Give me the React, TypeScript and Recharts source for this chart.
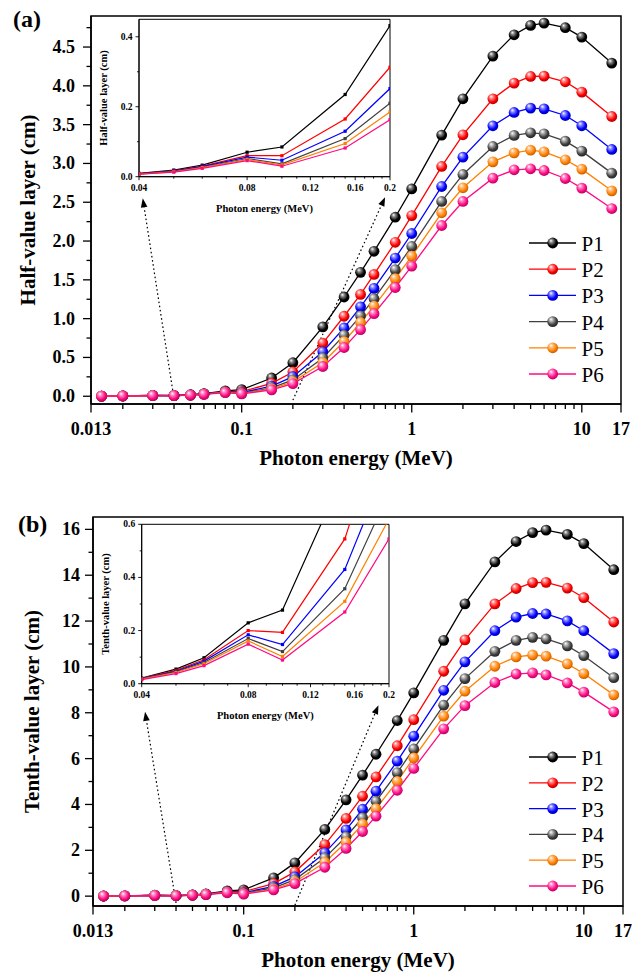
import React from 'react';
import { LineChart, Line, XAxis, YAxis, ReferenceArea, ReferenceLine, Legend } from 'recharts';

// ---------------- data ----------------
const ENERGY = [0.015, 0.02, 0.03, 0.04, 0.05, 0.06, 0.08, 0.1, 0.15, 0.2, 0.3, 0.4, 0.5, 0.6, 0.8, 1, 1.5, 2, 3, 4, 5, 6, 8, 10, 15];

const SERIES_NAMES = ['P1', 'P2', 'P3', 'P4', 'P5', 'P6'];
const SERIES_COLORS = ['#000000', '#FF0000', '#0000FF', '#404040', '#FF8000', '#FF0A84'];
const BALL_LIGHT = ['#8c8c8c', '#ff9090', '#9090ff', '#b8b8b8', '#ffc48a', '#ff92c8'];
const BALL_DARK = ['#000000', '#a00000', '#0000a0', '#1e1e1e', '#b85400', '#a8005a'];

const HVL_P1 = [0.002, 0.004, 0.012, 0.0096, 0.019, 0.033, 0.07, 0.085, 0.235, 0.432, 0.893, 1.279, 1.597, 1.868, 2.307, 2.672, 3.365, 3.833, 4.383, 4.658, 4.779, 4.809, 4.749, 4.628, 4.293];
const HVL_P2 = [0.002, 0.004, 0.011, 0.009, 0.017, 0.03, 0.06, 0.06, 0.165, 0.313, 0.685, 1.031, 1.312, 1.57, 1.984, 2.328, 2.961, 3.369, 3.833, 4.035, 4.121, 4.125, 4.052, 3.919, 3.605];
const HVL_P3 = [0.002, 0.003, 0.01, 0.008, 0.016, 0.029, 0.056, 0.047, 0.13, 0.252, 0.573, 0.88, 1.152, 1.39, 1.781, 2.097, 2.703, 3.081, 3.485, 3.657, 3.713, 3.704, 3.618, 3.485, 3.18];
const HVL_P4 = [0.001, 0.003, 0.009, 0.008, 0.015, 0.027, 0.052, 0.037, 0.109, 0.21, 0.494, 0.788, 1.036, 1.257, 1.631, 1.93, 2.51, 2.858, 3.219, 3.361, 3.395, 3.382, 3.287, 3.159, 2.875];
const HVL_P5 = [0.001, 0.003, 0.009, 0.007, 0.014, 0.026, 0.049, 0.034, 0.095, 0.185, 0.434, 0.705, 0.95, 1.162, 1.515, 1.805, 2.364, 2.686, 3.021, 3.137, 3.171, 3.15, 3.047, 2.927, 2.647];
const HVL_P6 = [0.001, 0.003, 0.008, 0.007, 0.013, 0.024, 0.046, 0.03, 0.082, 0.163, 0.383, 0.628, 0.859, 1.064, 1.401, 1.676, 2.2, 2.51, 2.81, 2.918, 2.931, 2.909, 2.806, 2.682, 2.419];

const TVL_P1 = [0.006, 0.012, 0.04, 0.021, 0.055, 0.0975, 0.229, 0.277, 0.8, 1.45, 2.91, 4.2, 5.28, 6.19, 7.66, 8.87, 11.16, 12.75, 14.58, 15.47, 15.86, 15.97, 15.78, 15.38, 14.24];
const TVL_P2 = [0.006, 0.011, 0.037, 0.02, 0.05, 0.09, 0.2, 0.193, 0.545, 1.06, 2.25, 3.39, 4.36, 5.2, 6.56, 7.7, 9.81, 11.18, 12.75, 13.42, 13.68, 13.69, 13.44, 13.02, 11.96];
const TVL_P3 = [0.005, 0.01, 0.035, 0.019, 0.047, 0.085, 0.184, 0.1475, 0.43, 0.84, 1.89, 2.89, 3.79, 4.58, 5.89, 6.98, 8.98, 10.22, 11.58, 12.17, 12.33, 12.31, 12.01, 11.58, 10.58];
const TVL_P4 = [0.005, 0.01, 0.032, 0.018, 0.045, 0.08, 0.17, 0.121, 0.3575, 0.72, 1.67, 2.59, 3.42, 4.14, 5.39, 6.42, 8.33, 9.49, 10.68, 11.16, 11.29, 11.22, 10.92, 10.49, 9.53];
const TVL_P5 = [0.005, 0.009, 0.03, 0.017, 0.042, 0.075, 0.161, 0.1025, 0.31, 0.62, 1.48, 2.35, 3.14, 3.82, 5.01, 6.03, 7.85, 8.94, 10.03, 10.44, 10.52, 10.47, 10.13, 9.71, 8.78];
const TVL_P6 = [0.004, 0.009, 0.028, 0.015, 0.038, 0.068, 0.149, 0.089, 0.27, 0.545, 1.26, 2.08, 2.82, 3.49, 4.62, 5.57, 7.3, 8.31, 9.32, 9.69, 9.74, 9.65, 9.3, 8.9, 8.04];

// tick labels / tick positions
const X_MAJOR = [0.013, 0.1, 1, 10, 17];
const X_MINOR = [0.02, 0.03, 0.04, 0.05, 0.06, 0.07, 0.08, 0.09, 0.2, 0.3, 0.4, 0.5, 0.6, 0.7, 0.8, 0.9, 2, 3, 4, 5, 6, 7, 8, 9];
const HVL_Y_TICKS = [0, 0.25, 0.5, 0.75, 1, 1.25, 1.5, 1.75, 2, 2.25, 2.5, 2.75, 3, 3.25, 3.5, 3.75, 4, 4.25, 4.5, 4.75];
const TVL_Y_TICKS = [0, 1, 2, 3, 4, 5, 6, 7, 8, 9, 10, 11, 12, 13, 14, 15, 16];
const INSET_X_MAJOR = [0.04, 0.08, 0.12, 0.16, 0.2];
const INSET_X_MINOR = [0.05, 0.06, 0.07, 0.09, 0.1, 0.11, 0.13, 0.14, 0.15, 0.17, 0.18, 0.19];
const HVL_INSET_Y_TICKS = [0, 0.1, 0.2, 0.3, 0.4];
const TVL_INSET_Y_TICKS = [0, 0.1, 0.2, 0.3, 0.4, 0.5, 0.6];

const X_DOMAIN = [0.013, 17];
const HVL_Y_DOMAIN = [-0.1, 4.9];
const TVL_Y_DOMAIN = [-0.43, 16.54];
const INSET_X_DOMAIN = [0.04, 0.2];
const HVL_INSET_Y_DOMAIN = [0, 0.45];
const TVL_INSET_Y_DOMAIN = [0, 0.6];

// dotted zoom arrows: [tailX, tailY, headX, headY] in data units
const HVL_ARROWS = [[0.04, -0.03, 0.0262, 2.55], [0.2, -0.05, 0.697, 2.565]];
const TVL_ARROWS = [[0.04, -0.3, 0.0263, 8.04], [0.2, -0.4, 0.62, 8.33]];

const buildRows = (series: number[][]) =>
  ENERGY.map((e, i) => {
    const row: any = { e };
    SERIES_NAMES.forEach((n, k) => { row[n] = series[k][i]; });
    return row;
  });

const HVL_ROWS = buildRows([HVL_P1, HVL_P2, HVL_P3, HVL_P4, HVL_P5, HVL_P6]);
const TVL_ROWS = buildRows([TVL_P1, TVL_P2, TVL_P3, TVL_P4, TVL_P5, TVL_P6]);
const HVL_INSET_ROWS = HVL_ROWS.filter((r) => r.e >= 0.04 && r.e <= 0.2);
const TVL_INSET_ROWS = TVL_ROWS.filter((r) => r.e >= 0.04 && r.e <= 0.2);

// ---------------- helpers ----------------
const FONT = "'Liberation Serif','Times New Roman',Times,serif";
const near = (arr: number[], v: number) => arr.some((m) => Math.abs(m - v) < 1e-9);

const makeXTick = (majors: number[], major: number, minor: number, dy: number, fs: number, sw: number) =>
  (p: any) => {
    const { x, y, payload } = p;
    const v = payload.value;
    const isMajor = near(majors, v);
    return (
      <g>
        <line x1={x} x2={x} y1={y} y2={y + (isMajor ? major : minor)} stroke="#000" strokeWidth={sw} />
        {isMajor && (
          <text x={x} y={y + dy} textAnchor="middle" dominantBaseline="central" fontFamily={FONT} fontWeight="bold" fontSize={fs} fill="#000">
            {String(v)}
          </text>
        )}
      </g>
    );
  };

const makeYTick = (step: number, major: number, minor: number, gap: number, fs: number, sw: number, fmt: (v: number) => string) =>
  (p: any) => {
    const { x, y, payload } = p;
    const v = payload.value;
    const isMajor = Math.abs(v / step - Math.round(v / step)) < 1e-6;
    return (
      <g>
        <line x1={x} x2={x - (isMajor ? major : minor)} y1={y} y2={y} stroke="#000" strokeWidth={sw} />
        {isMajor && (
          <text x={x - gap} y={y} textAnchor="end" dominantBaseline="central" fontFamily={FONT} fontWeight="bold" fontSize={fs} fill="#000">
            {fmt(v)}
          </text>
        )}
      </g>
    );
  };

const xTitle = (text: string, dy: number, fs: number) => (lp: any) => {
  const vb = lp.viewBox;
  return (
    <text x={vb.x + vb.width / 2} y={vb.y + dy} textAnchor="middle" dominantBaseline="central" fontFamily={FONT} fontWeight="bold" fontSize={fs} fill="#000">
      {text}
    </text>
  );
};

const yTitle = (text: string, dx: number, fs: number) => (lp: any) => {
  const vb = lp.viewBox;
  const cx = vb.x + vb.width + dx;
  const cy = vb.y + vb.height / 2;
  return (
    <text x={cx} y={cy} transform={`rotate(-90 ${cx} ${cy})`} textAnchor="middle" dominantBaseline="central" fontFamily={FONT} fontWeight="bold" fontSize={fs} fill="#000">
      {text}
    </text>
  );
};

const Arrow = (p: any) => {
  const { x1, y1, x2, y2 } = p;
  const dx = x2 - x1;
  const dy = y2 - y1;
  const len = Math.hypot(dx, dy) || 1;
  const ux = dx / len;
  const uy = dy / len;
  const L = 9;
  const W = 3.3;
  const bx = x2 - ux * L;
  const by = y2 - uy * L;
  return (
    <g>
      <line x1={x1} y1={y1} x2={bx} y2={by} stroke="#000" strokeWidth={1.2} strokeDasharray="1.6 2.6" />
      <polygon points={`${x2},${y2} ${bx - uy * W},${by + ux * W} ${bx + uy * W},${by - ux * W}`} fill="#000" />
    </g>
  );
};

const BallDefs = (prefix: string) => (
  <defs>
    {SERIES_COLORS.map((c, i) => (
      <radialGradient key={i} id={`${prefix}${i}`} cx="0.45" cy="0.42" r="0.62" fx="0.33" fy="0.28">
        <stop offset="0" stopColor="#ffffff" />
        <stop offset="0.25" stopColor={BALL_LIGHT[i]} />
        <stop offset="0.68" stopColor={c} />
        <stop offset="1" stopColor={BALL_DARK[i]} />
      </radialGradient>
    ))}
  </defs>
);

const makeLegend = (prefix: string, gap: number) => () => (
  <svg width={110} height={gap * 6 + 12} style={{ overflow: 'visible', display: 'block' }}>
    {BallDefs(prefix)}
    {SERIES_NAMES.map((n, i) => {
      const cy = 13 + i * gap;
      return (
        <g key={n}>
          <line x1={4} x2={51} y1={cy} y2={cy} stroke={SERIES_COLORS[i]} strokeWidth={1.3} />
          <circle cx={27.7} cy={cy} r={5.4} fill={`url(#${prefix}${i})`} />
          <text x={56.5} y={cy + 1} dominantBaseline="central" fontFamily={FONT} fontSize={21} fill="#000">
            {n}
          </text>
        </g>
      );
    })}
  </svg>
);

const ballDot = (prefix: string, i: number) => (p: any) => (
  <circle key={`${prefix}-${i}-${p.index}`} cx={p.cx} cy={p.cy} r={5.4} fill={`url(#${prefix}${i})`} />
);

const smallDot = (i: number) => (p: any) => (
  <rect key={`s-${i}-${p.index}`} x={p.cx - 1.6} y={p.cy - 1.6} width={3.2} height={3.2} fill={SERIES_COLORS[i]} />
);

// ---------------- panels ----------------
type MainProps = {
  rows: any[];
  yDomain: number[];
  yTicks: number[];
  yStep: number;
  yFmt: (v: number) => string;
  yTitleText: string;
  yTitleDx: number;
  labelGap: number;
  margin: any;
  prefix: string;
  arrows: number[][];
  legendTop: number;
  legendGap: number;
};

const MainPanel = (p: MainProps) => (
  <LineChart width={642} height={487} data={p.rows} margin={p.margin}>
    {BallDefs(p.prefix)}
    <XAxis
      dataKey="e"
      type="number"
      scale="log"
      domain={X_DOMAIN}
      ticks={[...X_MAJOR, ...X_MINOR]}
      interval={0}
      height={50}
      tickSize={0}
      tickMargin={0}
      tickLine={false}
      axisLine={{ stroke: '#000', strokeWidth: 1.5 }}
      tick={makeXTick(X_MAJOR, 8.5, 5, 25, 18, 1.3)}
      allowDataOverflow
      label={xTitle('Photon energy (MeV)', 54, 21)}
    />
    <YAxis
      type="number"
      domain={p.yDomain}
      ticks={p.yTicks}
      interval={0}
      width={60}
      tickSize={0}
      tickMargin={0}
      tickLine={false}
      axisLine={{ stroke: '#000', strokeWidth: 1.5 }}
      tick={makeYTick(p.yStep, 8, 4.5, p.labelGap, 18, 1.3, p.yFmt)}
      allowDataOverflow
      label={yTitle(p.yTitleText, p.yTitleDx, 21)}
    />
    <ReferenceArea x1={X_DOMAIN[0]} x2={X_DOMAIN[1]} y1={p.yDomain[0]} y2={p.yDomain[1]} fill="none" stroke="#000" strokeWidth={1.5} ifOverflow="visible" />
    {p.arrows.map((a, k) => (
      <ReferenceLine key={k} segment={[{ x: a[0], y: a[1] }, { x: a[2], y: a[3] }]} ifOverflow="visible" shape={Arrow} />
    ))}
    {SERIES_NAMES.map((n, i) => (
      <Line
        key={n}
        type="linear"
        dataKey={n}
        name={n}
        stroke={SERIES_COLORS[i]}
        strokeWidth={1.3}
        dot={ballDot(p.prefix, i)}
        activeDot={false}
        isAnimationActive={false}
      />
    ))}
    <Legend
      layout="vertical"
      align="center"
      verticalAlign="middle"
      content={makeLegend(p.prefix + 'L', p.legendGap)}
      wrapperStyle={{ left: 525, top: p.legendTop, width: 110, right: 'auto', bottom: 'auto' }}
    />
  </LineChart>
);

type InsetProps = {
  rows: any[];
  yDomain: number[];
  yTicks: number[];
  yTitleText: string;
  margin: any;
  height: number;
};

const InsetPanel = (p: InsetProps) => (
  <LineChart width={330} height={p.height} data={p.rows} margin={p.margin}>
    <XAxis
      dataKey="e"
      type="number"
      scale="log"
      domain={INSET_X_DOMAIN}
      ticks={[...INSET_X_MAJOR, ...INSET_X_MINOR]}
      interval={0}
      height={30}
      tickSize={0}
      tickMargin={0}
      tickLine={false}
      axisLine={{ stroke: '#000', strokeWidth: 1 }}
      tick={makeXTick(INSET_X_MAJOR, 3.5, 2, 11.6, 9.5, 0.9)}
      allowDataOverflow
      label={xTitle('Photon energy (MeV)', 31.6, 10.5)}
    />
    <YAxis
      type="number"
      domain={p.yDomain}
      ticks={p.yTicks}
      interval={0}
      width={30}
      tickSize={0}
      tickMargin={0}
      tickLine={false}
      axisLine={{ stroke: '#000', strokeWidth: 1 }}
      tick={makeYTick(0.2, 3.5, 2, 6.5, 9.5, 0.9, (v) => v.toFixed(1))}
      allowDataOverflow
      label={yTitle(p.yTitleText, -36, 10.5)}
    />
    <ReferenceArea x1={INSET_X_DOMAIN[0]} x2={INSET_X_DOMAIN[1]} y1={p.yDomain[0]} y2={p.yDomain[1]} fill="none" stroke="#000" strokeWidth={1} ifOverflow="visible" />
    {SERIES_NAMES.map((n, i) => (
      <Line
        key={n}
        type="linear"
        dataKey={n}
        stroke={SERIES_COLORS[i]}
        strokeWidth={1.2}
        dot={smallDot(i)}
        activeDot={false}
        isAnimationActive={false}
      />
    ))}
  </LineChart>
);

export default function App() {
  return (
    <div style={{ position: 'absolute', left: 0, top: 0, width: 642, height: 974, background: '#fff', overflow: 'hidden' }}>
      <div style={{ position: 'absolute', left: 0, top: 0 }}>
        <MainPanel
          rows={HVL_ROWS}
          yDomain={HVL_Y_DOMAIN}
          yTicks={HVL_Y_TICKS}
          yStep={0.5}
          yFmt={(v) => v.toFixed(1)}
          yTitleText="Half-value layer (cm)"
          yTitleDx={-63}
          labelGap={16}
          margin={{ top: 16, right: 21, bottom: 33, left: 31 }}
          prefix="ga"
          arrows={HVL_ARROWS}
          legendTop={230}
          legendGap={26.2}
        />
      </div>
      <div style={{ position: 'absolute', left: 0, top: 487 }}>
        <MainPanel
          rows={TVL_ROWS}
          yDomain={TVL_Y_DOMAIN}
          yTicks={TVL_Y_TICKS}
          yStep={2}
          yFmt={(v) => String(v)}
          yTitleText="Tenth-value layer (cm)"
          yTitleDx={-61}
          labelGap={13}
          margin={{ top: 30, right: 19, bottom: 18, left: 33 }}
          prefix="gb"
          arrows={TVL_ARROWS}
          legendTop={256.7}
          legendGap={25.8}
        />
      </div>
      <div style={{ position: 'absolute', left: 80, top: 0 }}>
        <InsetPanel
          rows={HVL_INSET_ROWS}
          yDomain={HVL_INSET_Y_DOMAIN}
          yTicks={HVL_INSET_Y_TICKS}
          yTitleText="Half-value layer (cm)"
          margin={{ top: 19.3, right: 20, bottom: 23.3, left: 29 }}
          height={230}
        />
      </div>
      <div style={{ position: 'absolute', left: 80, top: 490 }}>
        <InsetPanel
          rows={TVL_INSET_ROWS}
          yDomain={TVL_INSET_Y_DOMAIN}
          yTicks={TVL_INSET_Y_TICKS}
          yTitleText="Tenth-value layer (cm)"
          margin={{ top: 34.3, right: 21, bottom: 26.3, left: 31.7 }}
          height={250}
        />
      </div>
      <svg width={642} height={974} style={{ position: 'absolute', left: 0, top: 0, pointerEvents: 'none' }}>
        <text x={13} y={27} fontFamily={FONT} fontWeight="bold" fontSize={24} fill="#000">(a)</text>
        <text x={18} y={532} fontFamily={FONT} fontWeight="bold" fontSize={24} fill="#000">(b)</text>
      </svg>
    </div>
  );
}
